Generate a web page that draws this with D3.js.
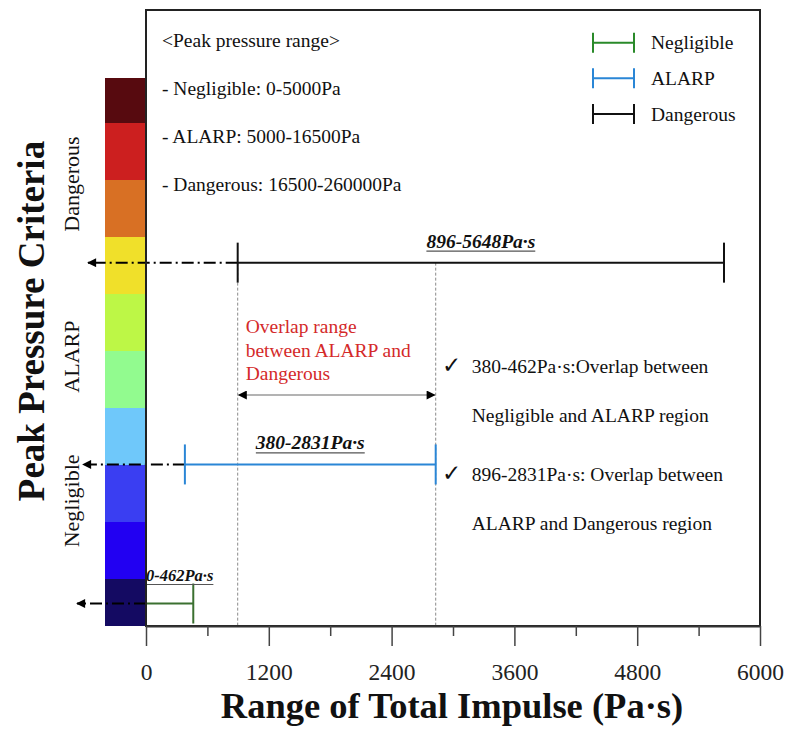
<!DOCTYPE html>
<html>
<head>
<meta charset="utf-8">
<script src="https://cdn.jsdelivr.net/npm/d3@7"></script>
<style>
  body { margin: 0; background: #fff; }
  svg { display: block; }
  text { font-family: "Liberation Serif", "Times New Roman", serif; }
</style>
</head>
<body>
<svg id="chart" width="789" height="733"></svg>
<script>
// Criteria levels and the total-impulse range (Pa·s) found for each
const levels = ["Dangerous", "ALARP", "Negligible"];
const impulseMin = [896, 380, 0];
const impulseMax = [5648, 2831, 462];
const rangeLabels = ["896-5648Pa·s", "380-2831Pa·s", "0-462Pa·s"];
const levelColors = ["#111111", "#2a86d6", "#3b7030"];
const legendColors = ["#2a8a2a", "#2a86d6", "#111111"];
const legendNames = ["Negligible", "ALARP", "Dangerous"];
// where each range sits on the peak-pressure colour scale (band units, 0 = top)
const levelPosition = [3.45, 6.99, 9.43];
// where each level's name sits on the colour scale (band units)
const levelNamePosition = [2.07, 5.1, 7.63];
// overlap between ALARP and Dangerous impulse ranges
const overlapRange = [896, 2831];
const xTickValues = [0, 1200, 2400, 3600, 4800, 6000];
const xMinorTicks = [600, 1800, 3000, 4200, 5400];
const bandColors = ["#570a0f", "#cc1f1f", "#d87024", "#f0e02a", "#bdf746",
                    "#92fb8f", "#6fc8fa", "#3a3ef2", "#2200f2", "#140a62"];
const pressureRanges = ["<Peak pressure range>", "- Negligible: 0-5000Pa",
                        "- ALARP: 5000-16500Pa", "- Dangerous: 16500-260000Pa"];
const overlapCaption = ["Overlap range", "between ALARP and", "Dangerous"];
const overlapNotes = [
  ["380-462Pa·s:Overlap between", "Negligible and ALARP region"],
  ["896-2831Pa·s: Overlap between", "ALARP and Dangerous region"]
];

const svg = d3.select("#chart");
const plot = { left: 146, right: 760, top: 10, bottom: 626 };
const bar = { left: 105, top: 78 };

const x = d3.scaleLinear().domain([0, 6000]).range([plot.left, plot.right]);
const y = d3.scaleLinear().domain([0, 10]).range([66, 636]);

const defs = svg.append("defs");
defs.append("clipPath").attr("id", "barClip")
  .append("rect")
  .attr("x", bar.left).attr("y", bar.top)
  .attr("width", plot.left - bar.left).attr("height", plot.bottom - bar.top);

function arrowMarker(id, orient) {
  defs.append("marker")
    .attr("id", id)
    .attr("viewBox", "0 0 10 10")
    .attr("refX", 9).attr("refY", 5)
    .attr("markerUnits", "userSpaceOnUse")
    .attr("markerWidth", 10).attr("markerHeight", 9)
    .attr("orient", orient)
    .append("path").attr("d", "M0,0 L10,5 L0,10 Z").attr("fill", "#000");
}
arrowMarker("arrowEnd", "auto");
arrowMarker("arrowStart", "auto-start-reverse");

// colour scale of peak pressure
svg.append("g").attr("clip-path", "url(#barClip)")
  .selectAll("rect").data(bandColors).join("rect")
  .attr("x", bar.left)
  .attr("y", (d, i) => y(i))
  .attr("width", plot.left - bar.left)
  .attr("height", (d, i) => y(i + 1) - y(i) + 0.5)
  .attr("fill", d => d);

// dotted guides marking the ALARP / Dangerous overlap
const guideTop = y(levelPosition[0]);
svg.append("g").selectAll("line").data(overlapRange).join("line")
  .attr("x1", d => x(d)).attr("x2", d => x(d))
  .attr("y1", guideTop).attr("y2", plot.bottom)
  .attr("stroke", "#8a8a8a").attr("stroke-width", 1)
  .attr("stroke-dasharray", "3,2");

// double-headed arrow across the overlap
const overlapY = 395;
svg.append("line")
  .attr("x1", x(overlapRange[0]) + 1).attr("x2", x(overlapRange[1]) - 1)
  .attr("y1", overlapY).attr("y2", overlapY)
  .attr("stroke", "#9a9a9a").attr("stroke-width", 1.5)
  .attr("marker-start", "url(#arrowStart)")
  .attr("marker-end", "url(#arrowEnd)");

const caption = svg.append("text")
  .attr("fill", "#d42a2a").attr("font-size", 19.5);
overlapCaption.forEach((t, i) => {
  caption.append("tspan")
    .attr("x", x(overlapRange[0]) + 8)
    .attr("y", 332.5 + [0, 24, 47][i])
    .text(t);
});

// dash-dot arrows pointing each range back to the colour scale
const arrowTips = [88, 83, 77];
svg.append("g").selectAll("line").data(levels).join("line")
  .attr("x1", (d, i) => x(impulseMin[i]))
  .attr("x2", (d, i) => arrowTips[i])
  .attr("y1", (d, i) => y(levelPosition[i]))
  .attr("y2", (d, i) => y(levelPosition[i]))
  .attr("stroke", "#000").attr("stroke-width", 2)
  .attr("stroke-dasharray", "12,4,2,4")
  .attr("marker-end", "url(#arrowEnd)");

// impulse ranges drawn as capped intervals
const capHalf = 20;
const ranges = svg.append("g").selectAll("g").data(levels).join("g");
ranges.append("line")
  .attr("x1", (d, i) => x(impulseMin[i])).attr("x2", (d, i) => x(impulseMax[i]))
  .attr("y1", (d, i) => y(levelPosition[i])).attr("y2", (d, i) => y(levelPosition[i]))
  .attr("stroke", (d, i) => levelColors[i]).attr("stroke-width", 2);
ranges.each(function (d, i) {
  const g = d3.select(this);
  const yy = y(levelPosition[i]);
  [impulseMin[i], impulseMax[i]].forEach(v => {
    g.append("line")
      .attr("x1", x(v)).attr("x2", x(v))
      .attr("y1", yy - capHalf).attr("y2", yy + capHalf)
      .attr("stroke", levelColors[i]).attr("stroke-width", 2);
  });
  const size = i === 2 ? 16.5 : 19.5;
  const lbl = g.append("text")
    .attr("font-size", size).attr("font-weight", "bold").attr("font-style", "italic")
    .attr("fill", "#111")
    .attr("y", yy - (i === 2 ? 22.5 : 15))
    .text(rangeLabels[i]);
  const w = lbl.node().getComputedTextLength();
  const span = x(impulseMax[i]) - x(impulseMin[i]);
  const x0 = w > span ? x(impulseMin[i]) : (x(impulseMin[i]) + x(impulseMax[i])) / 2 - w / 2;
  lbl.attr("x", x0);
  g.append("line")
    .attr("x1", x0).attr("x2", x0 + w)
    .attr("y1", +lbl.attr("y") + 3.5).attr("y2", +lbl.attr("y") + 3.5)
    .attr("stroke", "#555").attr("stroke-width", 1.2);
});

// plot frame and x axis
svg.append("rect")
  .attr("x", plot.left).attr("y", plot.top)
  .attr("width", plot.right - plot.left).attr("height", plot.bottom - plot.top)
  .attr("fill", "none").attr("stroke", "#222").attr("stroke-width", 2);

const axis = svg.append("g").attr("transform", `translate(0,${plot.bottom})`)
  .call(d3.axisBottom(x).tickValues(xTickValues).tickSize(20).tickSizeOuter(0)
    .tickPadding(17).tickFormat(d3.format("d")));
axis.select(".domain").attr("stroke", "#333").attr("stroke-width", 2);
axis.selectAll(".tick line").attr("stroke", "#444").attr("stroke-width", 1.5);
axis.selectAll(".tick text")
  .attr("font-family", "'Liberation Serif', 'Times New Roman', serif")
  .attr("font-size", 23.5).attr("fill", "#222");

const minor = svg.append("g").attr("transform", `translate(0,${plot.bottom})`)
  .call(d3.axisBottom(x).tickValues(xMinorTicks).tickSize(10).tickSizeOuter(0).tickFormat(""));
minor.select(".domain").remove();
minor.selectAll(".tick line").attr("stroke", "#444").attr("stroke-width", 1.5);

svg.append("text")
  .attr("x", 452).attr("y", 718)
  .attr("text-anchor", "middle")
  .attr("font-size", 36.5).attr("font-weight", "bold").attr("fill", "#111")
  .text("Range of Total Impulse (Pa·s)");

svg.append("text")
  .attr("transform", "translate(44,321) rotate(-90)")
  .attr("text-anchor", "middle")
  .attr("font-size", 37).attr("font-weight", "bold").attr("fill", "#111")
  .text("Peak Pressure Criteria");

// level names beside the colour scale
svg.append("g").selectAll("text").data(levels).join("text")
  .attr("transform", (d, i) => `translate(79,${y(levelNamePosition[i])}) rotate(-90)`)
  .attr("text-anchor", "middle")
  .attr("font-size", 22).attr("fill", "#111")
  .text(d => d);

// peak pressure definitions
svg.append("g").selectAll("text").data(pressureRanges).join("text")
  .attr("x", 162)
  .attr("y", (d, i) => 46.5 + i * 48)
  .attr("font-size", 19.5).attr("fill", "#111")
  .text(d => d);

// legend
const legendY = [42.7, 78.3, 114];
const legend = svg.append("g").selectAll("g").data(legendNames).join("g")
  .attr("transform", (d, i) => `translate(0,${legendY[i]})`);
legend.append("path")
  .attr("d", "M593,-10V10M593,0H634M634,-10V10")
  .attr("fill", "none")
  .attr("stroke", (d, i) => legendColors[i]).attr("stroke-width", 2);
legend.append("text")
  .attr("x", 651).attr("y", 6.5)
  .attr("font-size", 19.5).attr("fill", "#111")
  .text(d => d);

// overlap notes, placed just right of the overlap's upper bound
const noteX = x(overlapRange[1]) + 6;
const noteY = [373, 481];
overlapNotes.forEach((lines, i) => {
  svg.append("text")
    .attr("x", noteX).attr("y", noteY[i])
    .attr("font-size", 23).attr("fill", "#111")
    .attr("font-family", "'DejaVu Sans', sans-serif")
    .text("✓");
  lines.forEach((t, j) => {
    svg.append("text")
      .attr("x", noteX + 30).attr("y", noteY[i] + j * 48.5)
      .attr("font-size", 19.5).attr("fill", "#111")
      .text(t);
  });
});
</script>
</body>
</html>
